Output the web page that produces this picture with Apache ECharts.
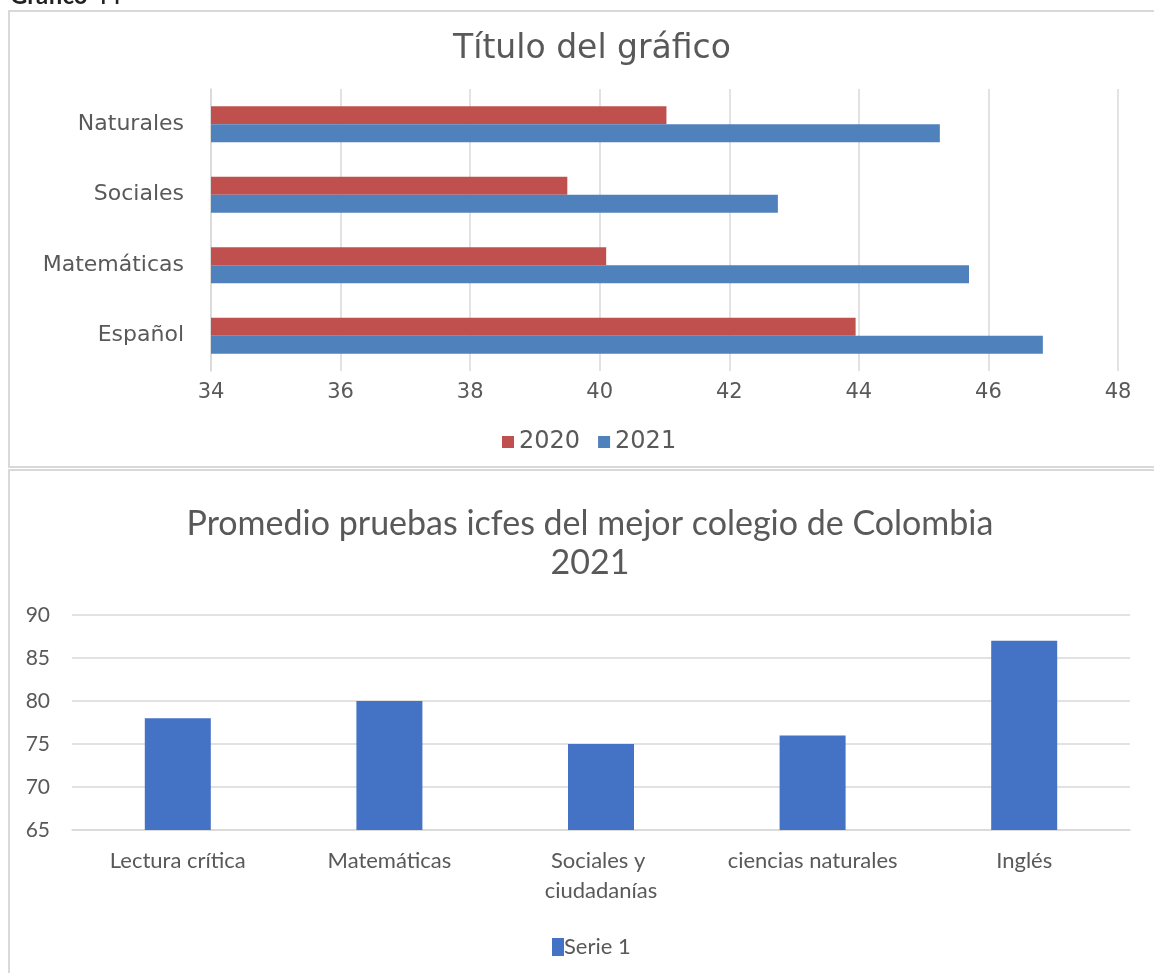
<!DOCTYPE html>
<html>
<head>
<meta charset="utf-8">
<script src="https://cdn.jsdelivr.net/npm/echarts@6/dist/echarts.min.js"></script>
<style>
html,body{margin:0;padding:0;background:#fff;}
#c{width:1154px;height:973px;}
</style>
</head>
<body>
<div id="c"></div>
<script>
// Top chart data
const subjectsTop = ['Español', 'Matemáticas', 'Sociales', 'Naturales'];
const values2020 = [43.95, 40.1, 39.5, 41.03];
const values2021 = [46.84, 45.7, 42.75, 45.25];
const topTitle = 'Título del gráfico';

// Bottom chart data
const subjectsBottom = ['Lectura crítica', 'Matemáticas', 'Sociales y ciudadanías', 'ciencias naturales', 'Inglés'];
const serie1 = [78, 80, 75, 76, 87];
const bottomTitle = 'Promedio pruebas icfes del mejor colegio de Colombia\n2021';

const gray = '#595959';
const gridGray = '#d9d9d9';
const topFont = 'DejaVu Sans';
const botFont = 'Lato';

const chart = echarts.init(document.getElementById('c'), null, {renderer: 'canvas'});
chart.setOption({
  animation: false,
  backgroundColor: '#ffffff',
  graphic: [
    {type: 'rect', shape: {x: 9, y: 11, width: 1170, height: 456}, style: {fill: 'none', stroke: gridGray, lineWidth: 2}, z: -1},
    {type: 'rect', shape: {x: 9, y: 470, width: 1170, height: 530}, style: {fill: 'none', stroke: gridGray, lineWidth: 2}, z: -1},
    {type: 'text', left: 10, top: -16, style: {text: 'Gráfico 44', font: 'bold 24px Lato', fill: '#222'}}
  ],
  title: [
    {text: topTitle, left: 587, top: 28, textAlign: 'center',
     textStyle: {fontFamily: topFont, fontSize: 33, fontWeight: 'normal', color: gray}},
    {text: bottomTitle, left: 585, top: 500, textAlign: 'center',
     textStyle: {fontFamily: botFont, fontSize: 34, fontWeight: 'normal', color: gray, lineHeight: 39}}
  ],
  legend: [
    {data: ['2020', '2021'], left: 497, top: 425, itemWidth: 12, itemHeight: 12, itemGap: 18,
     icon: 'rect', textStyle: {fontFamily: topFont, fontSize: 24, color: gray, padding: [0,0,0,0]}},
    {data: ['Serie 1'], left: 547, top: 931, itemWidth: 12, itemHeight: 18, icon: 'rect',
     textStyle: {fontFamily: botFont, fontSize: 22, color: gray, padding: [0,0,0,-5]}}
  ],
  grid: [
    {left: 211, right: 36, top: 89, height: 282, containLabel: false},
    {left: 72, right: 24, top: 615, height: 215, containLabel: false}
  ],
  xAxis: [
    {gridIndex: 0, type: 'value', min: 34, max: 48, interval: 2,
     axisLine: {show: false}, axisTick: {show: false},
     splitLine: {lineStyle: {color: gridGray, width: 1.5}},
     axisLabel: {fontFamily: topFont, fontSize: 21, color: gray, margin: 11}},
    {gridIndex: 1, type: 'category', data: subjectsBottom,
     axisLine: {show: true, lineStyle: {color: gridGray, width: 1.5}}, axisTick: {show: false},
     axisLabel: {fontFamily: botFont, fontSize: 22, color: gray, margin: 16, width: 200, overflow: 'break', lineHeight: 30, interval: 0}}
  ],
  yAxis: [
    {gridIndex: 0, type: 'category', data: subjectsTop,
     axisLine: {show: true, lineStyle: {color: gridGray, width: 1.5}}, axisTick: {show: false},
     axisLabel: {fontFamily: topFont, fontSize: 22, color: gray, margin: 27}},
    {gridIndex: 1, type: 'value', min: 65, max: 90, interval: 5,
     axisLine: {show: false}, axisTick: {show: false},
     splitLine: {lineStyle: {color: gridGray, width: 1.5}},
     axisLabel: {fontFamily: botFont, fontSize: 21, color: gray, margin: 22}}
  ],
  series: [
    {name: '2020', type: 'bar', xAxisIndex: 0, yAxisIndex: 0, data: values2020,
     itemStyle: {color: '#C0504D'}, barGap: '0%', barCategoryGap: '49%'},
    {name: '2021', type: 'bar', xAxisIndex: 0, yAxisIndex: 0, data: values2021,
     itemStyle: {color: '#4F81BD'}, barGap: '0%', barCategoryGap: '49%'},
    {name: 'Serie 1', type: 'bar', xAxisIndex: 1, yAxisIndex: 1, data: serie1,
     itemStyle: {color: '#4472C4'}, barWidth: 66}
  ]
});
</script>
</body>
</html>
